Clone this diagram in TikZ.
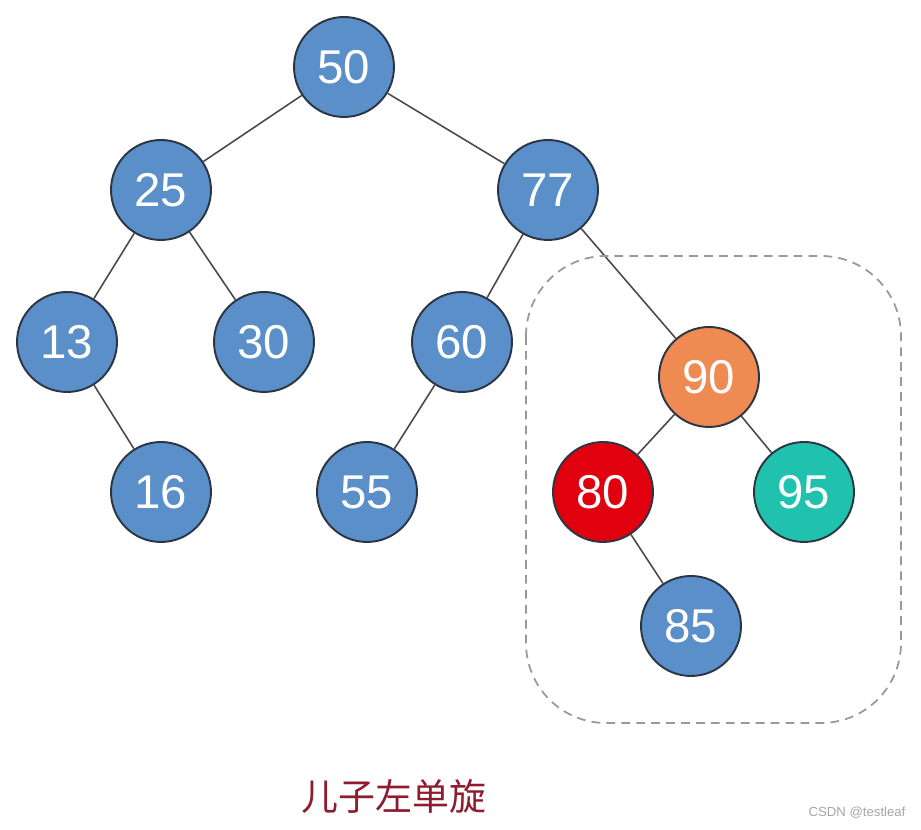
\documentclass[tikz,border=0pt]{standalone}
\usepackage{fontspec}
\setsansfont{Liberation Sans}
\newfontfamily\cjk{Noto Sans CJK SC}
\usepackage{tikz}
\definecolor{keyblue}{HTML}{5B8FC9}
\definecolor{keyorange}{HTML}{EE8A52}
\definecolor{keyred}{HTML}{E0000E}
\definecolor{keyteal}{HTML}{20C2AE}
\definecolor{keyrim}{HTML}{2B3644}
\definecolor{edgegray}{HTML}{4A4A4A}
\definecolor{captionred}{HTML}{8E1B2E}

\begin{document}
\begin{tikzpicture}[x=0.02cm, y=-0.02cm,
    key/.style={circle, draw=keyrim, line width=1.1pt, fill=keyblue,
        minimum size=2cm, inner sep=0pt, text=white,
        font=\sffamily\fontsize{27}{27}\selectfont},
    link/.style={draw=edgegray, line width=0.9pt}]
        % --- 1. Canvas ---
        \useasboundingbox[fill=white] (0,0) rectangle (921,830);

        % --- 2. Keys ---
        \node[key] (k50) at (344,67) {50};
        \node[key] (k25) at (161,190) {25};
        \node[key] (k77) at (548,190) {77};
        \node[key] (k13) at (67,342) {13};
        \node[key] (k30) at (264,342) {30};
        \node[key] (k60) at (462,342) {60};
        \node[key, fill=keyorange] (k90) at (709,377) {90};
        \node[key] (k16) at (161,492) {16};
        \node[key] (k55) at (367,492) {55};
        \node[key, fill=keyred] (k80) at (603,492) {80};
        \node[key, fill=keyteal] (k95) at (804,492) {95};
        \node[key] (k85) at (691,626) {85};

        % --- 3. Links ---
        \draw[link] (k50) -- (k25);
        \draw[link] (k50) -- (k77);
        \draw[link] (k25) -- (k13);
        \draw[link] (k25) -- (k30);
        \draw[link] (k13) -- (k16);
        \draw[link] (k77) -- (k60);
        \draw[link] (k77) -- (k90);
        \draw[link] (k60) -- (k55);
        \draw[link] (k90) -- (k80);
        \draw[link] (k90) -- (k95);
        \draw[link] (k80) -- (k85);

        % --- 4. Rotated subtree frame ---
        \draw[gray!80, line width=1pt, dash pattern=on 5pt off 3.5pt,
            rounded corners=1.6cm] (526,256) rectangle (901,723);

        % --- 5. Caption and mark ---
        \node[text=captionred, font=\cjk\fontsize{21}{21}\selectfont] (caption) at (394,797) {儿子左单旋};
        \node[text=gray!70, font=\sffamily\fontsize{7.5}{7.5}\selectfont] (mark) at (857,813) {CSDN @testleaf};
    \end{tikzpicture}
\end{document}
